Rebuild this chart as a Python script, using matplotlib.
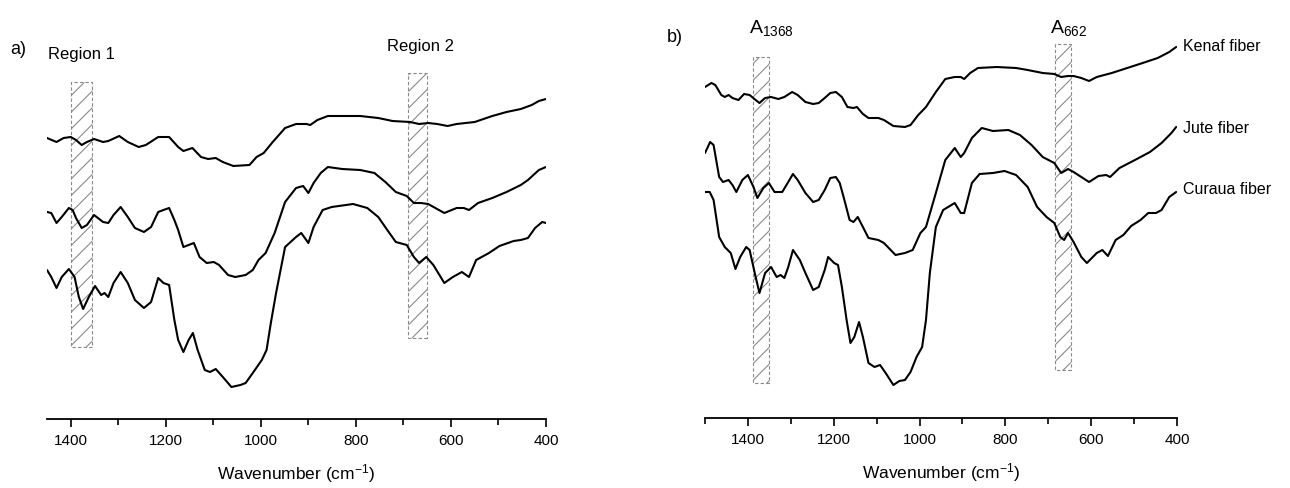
import numpy as np
import matplotlib.pyplot as plt
from matplotlib.patches import Rectangle

plt.rcParams['font.family'] = ['Liberation Sans', 'DejaVu Sans']
plt.rcParams['mathtext.fontset'] = 'custom'
plt.rcParams['mathtext.rm'] = 'Liberation Sans'
plt.rcParams['mathtext.it'] = 'Liberation Sans'
plt.rcParams['hatch.linewidth'] = 0.8

# ---- panel a) spectra (offset, arbitrary units) ----
wn_a_top = [1450, 1430, 1415, 1400, 1389, 1377, 1366, 1351, 1332, 1321, 1298, 1280, 1257, 1242,
            1216, 1193, 1174, 1163, 1144, 1126, 1111, 1095, 1080, 1058, 1024, 1009, 994, 975,
            949, 926, 904, 896, 881, 859, 829, 791, 753, 723, 686, 667, 648, 629, 607, 588,
            550, 513, 483, 453, 430, 415, 400]
a_top = [2.81, 2.77, 2.81, 2.82, 2.79, 2.74, 2.77, 2.80, 2.77, 2.78, 2.83, 2.77, 2.72, 2.74,
         2.82, 2.82, 2.72, 2.68, 2.71, 2.62, 2.60, 2.61, 2.57, 2.53, 2.54, 2.62, 2.66, 2.77,
         2.91, 2.95, 2.95, 2.94, 2.99, 3.03, 3.03, 3.03, 3.01, 2.98, 2.97, 2.95, 2.96, 2.95,
         2.93, 2.95, 2.97, 3.03, 3.07, 3.10, 3.14, 3.18, 3.20]

wn_a_mid = [1450, 1441, 1430, 1419, 1404, 1396, 1389, 1377, 1366, 1351, 1332, 1321, 1310, 1295,
            1280, 1265, 1246, 1231, 1216, 1205, 1193, 1182, 1174, 1163, 1152, 1141, 1129, 1114,
            1099, 1088, 1069, 1054, 1032, 1017, 1005, 990, 971, 949, 926, 911, 900, 889, 874,
            859, 829, 791, 761, 738, 716, 693, 678, 663, 648, 614, 588, 573, 562, 543, 513,
            483, 453, 438, 415, 400]
a_mid = [2.07, 2.06, 1.96, 2.02, 2.11, 2.09, 2.01, 1.91, 1.94, 2.04, 1.97, 1.96, 2.04, 2.12,
         2.02, 1.91, 1.87, 1.92, 2.07, 2.09, 2.11, 1.99, 1.89, 1.72, 1.74, 1.76, 1.62, 1.56,
         1.57, 1.54, 1.44, 1.42, 1.44, 1.49, 1.59, 1.66, 1.86, 2.17, 2.31, 2.33, 2.26, 2.36,
         2.46, 2.52, 2.50, 2.49, 2.46, 2.37, 2.27, 2.23, 2.16, 2.16, 2.15, 2.06, 2.11, 2.11,
         2.09, 2.16, 2.21, 2.27, 2.34, 2.39, 2.49, 2.52]

wn_a_bot = [1450, 1441, 1430, 1419, 1404, 1392, 1383, 1374, 1362, 1349, 1336, 1329, 1321, 1310,
            1295, 1280, 1265, 1246, 1231, 1216, 1205, 1193, 1182, 1174, 1163, 1152, 1143, 1133,
            1118, 1107, 1095, 1080, 1062, 1043, 1032, 1017, 998, 988, 979, 968, 949, 926, 915,
            900, 889, 870, 851, 806, 776, 753, 731, 716, 693, 678, 667, 652, 637, 614, 596,
            577, 562, 547, 520, 498, 468, 453, 438, 423, 408, 400]
a_bot = [1.49, 1.42, 1.31, 1.42, 1.50, 1.42, 1.22, 1.10, 1.22, 1.33, 1.24, 1.26, 1.22, 1.36,
         1.47, 1.36, 1.19, 1.11, 1.17, 1.41, 1.36, 1.34, 0.99, 0.79, 0.67, 0.79, 0.86, 0.69,
         0.49, 0.47, 0.50, 0.42, 0.32, 0.34, 0.36, 0.46, 0.59, 0.69, 0.96, 1.26, 1.72, 1.82,
         1.86, 1.76, 1.92, 2.09, 2.12, 2.15, 2.11, 2.02, 1.87, 1.77, 1.74, 1.62, 1.56, 1.62,
         1.54, 1.36, 1.42, 1.47, 1.42, 1.59, 1.66, 1.73, 1.78, 1.79, 1.81, 1.91, 1.97, 1.96]

# ---- panel b) spectra ----
wn_kenaf = [1500, 1485, 1476, 1462, 1454, 1445, 1436, 1422, 1409, 1396, 1382, 1373, 1360, 1346,
            1329, 1315, 1297, 1284, 1266, 1248, 1235, 1221, 1208, 1195, 1181, 1168, 1154, 1146,
            1132, 1119, 1096, 1083, 1061, 1034, 1021, 1003, 985, 962, 940, 918, 904, 896, 882,
            864, 820, 775, 748, 713, 686, 670, 654, 641, 623, 605, 587, 552, 516, 480, 445,
            418, 402]
kenaf = [3.31, 3.35, 3.33, 3.23, 3.21, 3.23, 3.20, 3.18, 3.24, 3.23, 3.18, 3.15, 3.20, 3.21,
         3.19, 3.21, 3.26, 3.23, 3.16, 3.14, 3.15, 3.20, 3.25, 3.26, 3.21, 3.11, 3.10, 3.11,
         3.04, 3.00, 3.00, 2.98, 2.92, 2.91, 2.93, 3.03, 3.11, 3.26, 3.39, 3.41, 3.41, 3.39,
         3.45, 3.50, 3.51, 3.50, 3.48, 3.45, 3.44, 3.41, 3.42, 3.42, 3.40, 3.37, 3.41, 3.45,
         3.50, 3.55, 3.60, 3.66, 3.71]

wn_jute = [1500, 1488, 1480, 1467, 1458, 1445, 1436, 1427, 1413, 1400, 1387, 1378, 1364, 1351,
           1338, 1320, 1306, 1295, 1284, 1266, 1248, 1235, 1221, 1208, 1195, 1186, 1177, 1163,
           1154, 1144, 1132, 1119, 1096, 1083, 1056, 1034, 1016, 998, 985, 962, 940, 918, 904,
           896, 878, 855, 829, 793, 766, 739, 713, 686, 670, 654, 641, 623, 605, 583, 565,
           556, 534, 498, 463, 436, 413, 402]
jute = [2.65, 2.76, 2.73, 2.41, 2.36, 2.38, 2.33, 2.26, 2.38, 2.43, 2.31, 2.20, 2.30, 2.35,
        2.26, 2.26, 2.36, 2.44, 2.38, 2.25, 2.16, 2.18, 2.28, 2.40, 2.41, 2.35, 2.21, 1.98,
        1.96, 2.01, 1.91, 1.80, 1.78, 1.75, 1.63, 1.65, 1.68, 1.85, 1.91, 2.25, 2.58, 2.70,
        2.61, 2.65, 2.80, 2.90, 2.87, 2.88, 2.83, 2.73, 2.61, 2.55, 2.45, 2.49, 2.46, 2.41,
        2.36, 2.42, 2.43, 2.41, 2.50, 2.58, 2.66, 2.75, 2.85, 2.91]

wn_curaua = [1500, 1489, 1480, 1467, 1454, 1440, 1429, 1418, 1404, 1396, 1382, 1373, 1360, 1346,
             1333, 1324, 1315, 1306, 1295, 1279, 1266, 1248, 1235, 1221, 1213, 1199, 1190, 1181,
             1170, 1161, 1152, 1141, 1132, 1119, 1105, 1092, 1079, 1061, 1047, 1034, 1021,
             1007, 994, 985, 976, 962, 945, 918, 904, 896, 878, 860, 829, 802, 775, 748, 726,
             704, 686, 672, 663, 654, 641, 623, 610, 587, 574, 561, 543, 525, 507, 485, 467,
             449, 436, 418, 402]
curaua = [2.26, 2.26, 2.18, 1.81, 1.71, 1.65, 1.49, 1.61, 1.71, 1.68, 1.41, 1.25, 1.45, 1.51,
          1.41, 1.43, 1.40, 1.51, 1.68, 1.58, 1.45, 1.28, 1.31, 1.48, 1.61, 1.55, 1.53, 1.31,
          0.98, 0.75, 0.81, 0.96, 0.81, 0.55, 0.51, 0.53, 0.45, 0.33, 0.37, 0.38, 0.46, 0.61,
          0.71, 0.98, 1.45, 1.91, 2.08, 2.15, 2.05, 2.05, 2.35, 2.44, 2.45, 2.47, 2.43, 2.31,
          2.11, 2.01, 1.95, 1.81, 1.78, 1.85, 1.76, 1.61, 1.55, 1.65, 1.68, 1.62, 1.78, 1.83,
          1.92, 1.98, 2.05, 2.05, 2.08, 2.21, 2.26]

fiber_names = ['Kenaf fiber', 'Jute fiber', 'Curaua fiber']

# shaded bands: (wn_high, wn_low, y_bottom, y_top)
bands_a = [(1400, 1356, 0.72, 3.37), (690, 650, 0.81, 3.46)]
bands_b = [(1387, 1351, 0.35, 3.61), (684, 648, 0.48, 3.74)]


def style_axis(ax, xmax, minor):
    for s in ['left', 'right', 'top']:
        ax.spines[s].set_visible(False)
    ax.spines['bottom'].set_linewidth(1.3)
    ax.set_yticks([])
    ax.set_xticks([1400, 1200, 1000, 800, 600, 400])
    ax.set_xticks(minor, minor=True)
    # limits after the ticks, otherwise set_xticks widens them
    ax.set_xlim(xmax, 400)
    ax.tick_params(axis='x', which='major', direction='out', length=6, width=1.2,
                   labelsize=11, pad=5)
    ax.tick_params(axis='x', which='minor', direction='out', length=4, width=1.2)
    ax.set_xlabel('Wavenumber (cm$^{-1}$)', fontsize=12.5, labelpad=10)


def add_band(ax, hi, lo, y0, y1):
    ax.add_patch(Rectangle((lo, y0), hi - lo, y1 - y0, fill=False, hatch='//',
                           edgecolor='#8a8a8a', linewidth=0.8, linestyle=(0, (3, 2))))


fig = plt.figure(figsize=(12.9, 4.88), dpi=100)
line_kw = dict(color='black', lw=1.5, solid_joinstyle='round', solid_capstyle='round')

ax1 = fig.add_axes([47 / 1290, 69 / 488, 499 / 1290, 399 / 488])
style_axis(ax1, 1450, [1300, 1100, 900, 700, 500])
ax1.set_ylim(0, 3.99)
for hi, lo, y0, y1 in bands_a:
    add_band(ax1, hi, lo, y0, y1)
ax1.plot(wn_a_top, a_top, **line_kw)
ax1.plot(wn_a_mid, a_mid, **line_kw)
ax1.plot(wn_a_bot, a_bot, **line_kw)
ax1.text(1377, 3.64, 'Region 1', fontsize=12, ha='center', va='center')
ax1.text(665, 3.72, 'Region 2', fontsize=12, ha='center', va='center')

ax2 = fig.add_axes([705 / 1290, 70 / 488, 472 / 1290, 398 / 488])
style_axis(ax2, 1500, [1500, 1300, 1100, 900, 700, 500])
ax2.set_ylim(0, 3.98)
for hi, lo, y0, y1 in bands_b:
    add_band(ax2, hi, lo, y0, y1)
ax2.plot(wn_kenaf, kenaf, **line_kw)
ax2.plot(wn_jute, jute, **line_kw)
ax2.plot(wn_curaua, curaua, **line_kw)

ax2.text(1397, 3.85, 'A$_{1368}$', fontsize=14, ha='left', va='baseline')
ax2.text(697, 3.85, 'A$_{662}$', fontsize=14, ha='left', va='baseline')
for name, y in zip(fiber_names, [3.72, 2.90, 2.29]):
    ax2.text(385, y, name, fontsize=11.5, ha='left', va='center', clip_on=False)

fig.text(10 / 1290, 1 - 50 / 488, 'a)', fontsize=13, ha='left', va='center')
fig.text(667 / 1290, 1 - 38 / 488, 'b)', fontsize=13, ha='left', va='center')

fig.savefig('out.png', dpi=100)
